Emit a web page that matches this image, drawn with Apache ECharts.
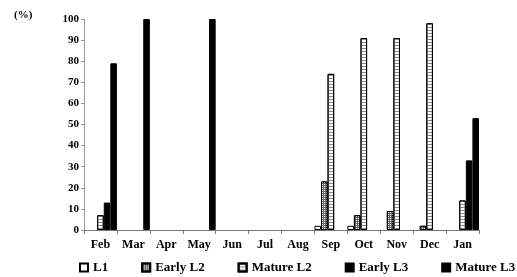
<!DOCTYPE html>
<html>
<head>
<meta charset="utf-8">
<script src="https://cdn.jsdelivr.net/npm/echarts@6/dist/echarts.min.js"></script>
<style>
html, body { margin: 0; padding: 0; background: #fff; }
#chart { width: 517px; height: 277px; }
</style>
</head>
<body>
<div id="chart"></div>
<script>
let months = ['Feb', 'Mar', 'Apr', 'May', 'Jun', 'Jul', 'Aug', 'Sep', 'Oct', 'Nov', 'Dec', 'Jan'];
let l1 = [0, 0, 0, 0, 0, 0, 0, 2, 2, 0, 0, 0];
let earlyL2 = [0, 0, 0, 0, 0, 0, 0, 23, 7, 9, 2, 0];
let matureL2 = [7, 0, 0, 0, 0, 0, 0, 74, 91, 91, 98, 14];
let earlyL3 = [13, 0, 0, 0, 0, 0, 0, 0, 0, 0, 0, 33];
let matureL3 = [79, 100, 0, 100, 0, 0, 0, 0, 0, 0, 0, 53];

let font = 'Liberation Serif';

// empty months: no bar drawn
function bars(arr) {
    return arr.map(v => v === 0 ? '-' : v);
}

let chart = echarts.init(document.getElementById('chart'));
let option = {
    animation: false,
    grid: { left: 84, right: 38, top: 19, bottom: 47 },
    graphic: [{
        type: 'text',
        left: 14, top: 10,
        style: { text: '(%)', font: 'bold 11px "Liberation Serif"', fill: '#000' }
    }],
    legend: {
        left: 79, bottom: 3, width: 450, padding: 0,
        icon: 'rect',
        itemWidth: 8, itemHeight: 8, itemGap: 33,
        textStyle: { fontFamily: font, fontWeight: 'bold', fontSize: 13, color: '#000' },
        data: ['L1', 'Early L2', 'Mature L2', 'Early L3', 'Mature L3']
    },
    xAxis: {
        type: 'category',
        data: months,
        axisLine: { lineStyle: { color: '#777' } },
        axisTick: { show: true, length: 4, lineStyle: { color: '#777' } },
        axisLabel: { fontFamily: font, fontWeight: 'bold', fontSize: 12, color: '#000', margin: 9 }
    },
    yAxis: {
        type: 'value',
        min: 0, max: 100, interval: 10,
        splitLine: { show: false },
        axisLine: { show: true, lineStyle: { color: '#999' } },
        axisTick: { show: true, length: 3, lineStyle: { color: '#999' } },
        axisLabel: { fontFamily: font, fontWeight: 'bold', fontSize: 11, color: '#000', margin: 5 }
    },
    series: [
        {
            name: 'L1', type: 'bar', data: bars(l1), barGap: '0%', barCategoryGap: '0%',
            itemStyle: { color: '#fff', borderColor: '#000', borderWidth: 1 }
        },
        {
            name: 'Early L2', type: 'bar', data: bars(earlyL2),
            itemStyle: {
                color: '#666', borderColor: '#000', borderWidth: 1,
                decal: { symbol: 'rect', color: '#fff', dashArrayX: [1, 1], dashArrayY: [1, 1], symbolSize: 1 }
            }
        },
        {
            name: 'Mature L2', type: 'bar', data: bars(matureL2),
            itemStyle: {
                color: '#fff', borderColor: '#000', borderWidth: 1,
                decal: { symbol: 'rect', color: '#888', dashArrayX: [1, 0], dashArrayY: [1, 2], symbolSize: 1 }
            }
        },
        {
            name: 'Early L3', type: 'bar', data: bars(earlyL3),
            itemStyle: { color: '#000', borderColor: '#000', borderWidth: 1 }
        },
        {
            name: 'Mature L3', type: 'bar', data: bars(matureL3),
            itemStyle: { color: '#000', borderColor: '#000', borderWidth: 1 }
        }
    ]
};
chart.setOption(option);
</script>
</body>
</html>
